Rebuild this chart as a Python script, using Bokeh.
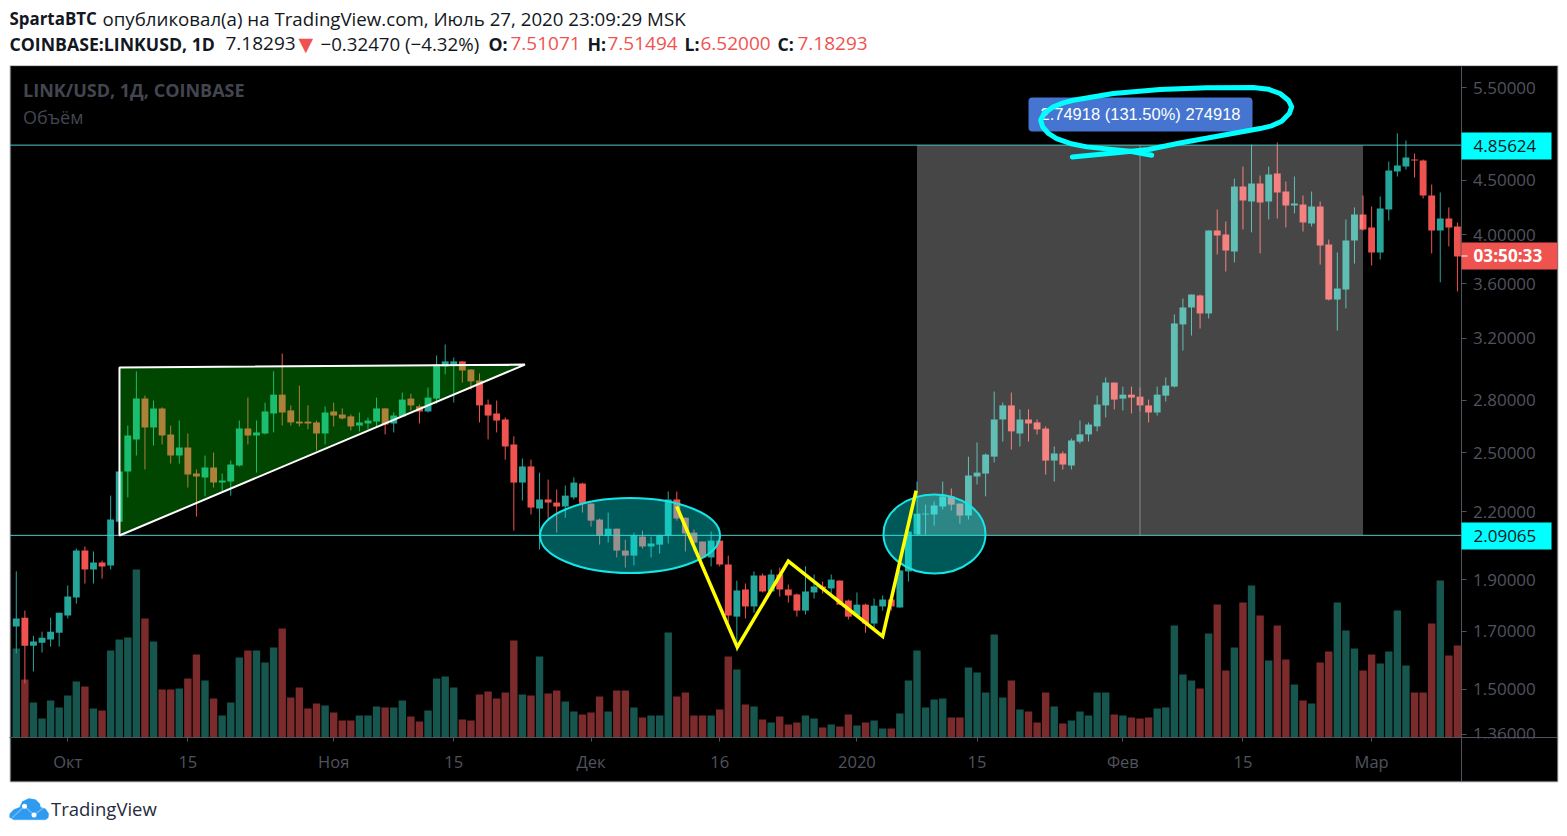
from bokeh.plotting import figure
from bokeh.embed import file_html
from bokeh.resources import INLINE
from bokeh.models import (BoxAnnotation, Label, PolyAnnotation, FixedTicker,
                          NumeralTickFormatter, Range1d, LinearScale)

opens = [1.717,1.750,1.647,1.658,1.669,1.694,1.758,1.828,2.023,1.942,1.972,1.959,2.153,2.400,2.572,2.809,2.639,2.750,2.600,2.484,
2.527,2.389,2.369,2.420,2.343,2.348,2.431,2.633,2.594,2.605,2.720,2.833,2.738,2.673,2.673,2.668,2.605,2.732,2.714,2.703,
2.650,2.662,2.673,2.750,2.662,2.703,2.809,2.762,2.732,2.809,3.011,3.024,3.044,2.991,2.921,2.773,2.720,2.685,2.544,2.343,
2.426,2.215,2.259,2.244,2.225,2.269,2.338,2.239,2.163,2.090,2.121,2.023,2.001,2.085,2.041,2.049,2.090,2.259,2.172,2.103,
2.063,1.993,2.067,1.963,1.754,1.860,1.793,1.917,1.852,1.921,1.860,1.840,1.777,1.848,1.872,1.864,1.896,1.816,1.758,1.800,
1.728,1.793,1.820,1.789,1.934,2.094,2.187,2.187,2.225,2.274,2.239,2.182,2.374,2.389,2.478,2.685,2.768,2.605,2.685,2.668,
2.633,2.457,2.495,2.431,2.560,2.600,2.645,2.768,2.908,2.809,2.833,2.821,2.768,2.726,2.827,2.883,3.297,3.420,3.510,3.376,
4.039,4.004,3.860,4.441,4.300,4.470,4.300,4.567,4.393,4.263,4.272,4.100,4.254,3.918,3.479,3.555,3.952,4.181,4.065,3.852,
4.226,4.587,4.637,4.708,4.698,4.356,4.039,4.145,4.074]
highs = [1.934,1.777,1.683,1.698,1.750,1.769,1.876,2.032,2.041,2.019,1.980,2.278,2.400,2.650,2.979,2.827,2.797,2.756,2.650,2.679,
2.605,2.410,2.484,2.500,2.389,2.457,2.679,2.815,2.679,2.785,2.979,3.096,2.768,2.889,2.768,2.679,2.762,2.785,2.750,2.714,
2.726,2.697,2.815,2.750,2.726,2.846,2.839,2.773,2.877,3.083,3.157,3.070,3.044,2.991,2.966,2.803,2.797,2.697,2.589,2.468,
2.462,2.394,2.358,2.308,2.328,2.369,2.343,2.239,2.168,2.196,2.121,2.071,2.103,2.112,2.085,2.094,2.298,2.298,2.172,2.117,
2.063,2.108,2.067,2.001,1.896,1.884,1.934,1.925,1.942,1.950,1.880,1.844,1.955,1.921,1.892,1.921,1.896,1.820,1.848,1.804,
1.824,1.836,1.820,1.942,2.108,2.348,2.234,2.249,2.348,2.313,2.239,2.478,2.555,2.495,2.852,2.785,2.846,2.744,2.744,2.685,
2.645,2.533,2.506,2.577,2.679,2.668,2.827,2.940,2.908,2.883,2.883,2.877,2.803,2.883,2.940,3.369,3.487,3.517,3.517,4.039,
4.226,4.118,4.518,4.637,4.863,4.548,4.637,4.884,4.489,4.538,4.356,4.393,4.300,3.960,3.852,4.136,4.245,4.356,4.254,4.347,
4.687,4.982,4.905,4.769,4.708,4.460,4.384,4.245,4.109]
lows = [1.620,1.518,1.558,1.623,1.644,1.644,1.747,1.804,1.884,1.884,1.904,1.942,2.153,2.269,2.484,2.410,2.538,2.544,2.441,2.441,
2.318,2.177,2.274,2.318,2.293,2.278,2.426,2.544,2.394,2.600,2.611,2.650,2.650,2.645,2.628,2.511,2.544,2.645,2.685,2.622,
2.617,2.628,2.645,2.600,2.611,2.703,2.738,2.662,2.726,2.779,2.960,2.785,2.908,2.864,2.668,2.572,2.611,2.462,2.112,2.254,
2.187,2.027,2.158,2.103,2.172,2.259,2.196,2.130,2.049,2.058,1.993,1.950,1.959,2.032,1.993,2.010,2.054,2.158,2.019,2.023,
1.989,1.955,1.955,1.732,1.627,1.747,1.769,1.848,1.852,1.832,1.808,1.754,1.762,1.824,1.844,1.844,1.800,1.743,1.758,1.694,
1.709,1.777,1.777,1.789,1.892,2.090,2.094,2.135,2.211,2.206,2.144,2.163,2.333,2.274,2.447,2.560,2.516,2.533,2.560,2.600,
2.384,2.348,2.410,2.410,2.549,2.560,2.617,2.697,2.744,2.738,2.720,2.732,2.668,2.708,2.791,2.877,3.116,3.219,3.268,3.339,
3.835,3.696,3.769,4.048,4.022,3.843,4.136,4.145,4.065,4.190,4.030,4.074,3.752,3.472,3.254,3.413,3.760,4.039,3.744,3.793,
4.127,4.538,4.607,4.528,4.328,3.843,3.611,3.902,3.540]
closes = [1.747,1.647,1.662,1.676,1.698,1.769,1.832,2.023,1.942,1.972,1.955,2.163,2.400,2.594,2.809,2.639,2.750,2.594,2.484,2.527,
2.384,2.374,2.420,2.343,2.353,2.436,2.633,2.594,2.611,2.732,2.833,2.726,2.668,2.662,2.662,2.605,2.726,2.708,2.691,2.645,
2.668,2.679,2.750,2.656,2.708,2.803,2.768,2.732,2.815,3.024,3.044,3.044,2.985,2.915,2.768,2.708,2.679,2.533,2.343,2.426,
2.220,2.259,2.244,2.225,2.278,2.343,2.239,2.158,2.090,2.121,2.023,2.001,2.090,2.041,2.054,2.090,2.259,2.168,2.099,2.058,
1.993,2.067,1.963,1.758,1.856,1.793,1.917,1.852,1.921,1.860,1.836,1.777,1.852,1.872,1.864,1.900,1.800,1.754,1.800,1.728,
1.796,1.820,1.793,1.938,2.108,2.191,2.191,2.230,2.274,2.234,2.182,2.379,2.394,2.489,2.685,2.768,2.617,2.685,2.662,2.628,
2.457,2.495,2.436,2.566,2.600,2.656,2.773,2.908,2.803,2.833,2.815,2.768,2.726,2.833,2.889,3.304,3.420,3.517,3.376,4.039,
3.995,3.868,4.441,4.309,4.470,4.291,4.557,4.384,4.263,4.282,4.109,4.254,3.910,3.479,3.563,3.952,4.181,4.048,3.852,4.236,
4.597,4.647,4.729,4.698,4.356,4.039,4.145,4.065,3.818]
volumes = [89,58,35,19,37,30,42,56,51,29,27,87,98,100,168,119,96,48,48,49,
59,83,57,39,22,35,80,87,87,75,90,109,40,50,29,34,32,25,17,17,
22,22,31,30,30,37,21,16,27,59,61,50,18,17,43,46,39,45,97,43,
42,81,44,47,36,26,23,25,41,26,47,47,30,20,22,22,105,41,45,22,
22,22,28,81,68,33,31,18,15,21,13,15,22,19,10,13,11,23,12,15,
17,9,9,24,57,87,30,38,39,20,20,70,65,45,103,40,57,28,26,15,
45,31,14,17,26,22,45,45,23,22,20,19,20,29,30,112,63,57,49,104,
133,67,90,135,152,122,77,112,78,53,37,34,75,86,135,107,89,67,83,74,
86,127,72,45,45,114,157,82,92]

date_ticks = [6,20,37,51,67,82,98,112,129,143,158]
date_labels = ["Окт","15","Ноя","15","Дек","16","2020","15","Фев","15","Мар"]
price_ticks = [5.5,4.5,4.0,3.6,3.2,2.8,2.5,2.2,1.9,1.7,1.5,1.36]

level_high = 4.85624
level_low = 2.09065
range_start, range_end, range_mid = 105, 157, 131
triangle_x = [12.03, 12.03, 59.3]
triangle_y = [2.09, 3.004, 3.023]
zigzag_x = [76.99, 84.05, 90.0, 101.0, 104.9]
zigzag_y = [2.225, 1.642, 1.977, 1.681, 2.303]
ellipse_x = [71.55, 107.04]
ellipse_y = [2.09, 2.097]
scribble_x = [132.36,129.83,124.78,122.84,121.28,120.31,119.65,119.42,119.8,120.89,122.05,123.22,127.88,133.33,138.77,144.2,145.95,147.32,148.29,148.68,148.4,147.52,146.35,144.99,140.33,135.66,131.97,128.28,123.11]
scribble_y = [4.752,4.793,4.838,4.874,4.926,4.980,5.052,5.125,5.199,5.275,5.321,5.351,5.429,5.476,5.496,5.5,5.480,5.429,5.351,5.275,5.199,5.114,5.063,5.033,4.956,4.879,4.810,4.777,4.733]

GREEN, RED = "#26a69a", "#ef5350"
VGREEN, VRED = "#17564f", "#7b2b2c"
DIM = "#50535e"
FONT = "Open Sans"
AXIS_X = 168.42
PANE_LEFT, PANE_RIGHT = -0.734, 179.61
PANE_BOTTOM, PANE_TOP = 1.2285, 5.7549

ups = [c >= o for o, c in zip(opens, closes)]
n = len(opens)
idx = list(range(n))

p = figure(width=1559, height=828, output_backend="svg", toolbar_location=None,
           x_range=Range1d(-1.840, 179.90), y_range=Range1d(1.1099, 6.637),
           y_axis_type="log", x_axis_location="below", y_axis_location="right",
           min_border_left=0, min_border_right=0, min_border_top=0, min_border_bottom=0,
           background_fill_color="#ffffff", border_fill_color="#ffffff",
           outline_line_color=None)
p.grid.visible = False
p.extra_y_ranges = {"vol": Range1d(-91, 737)}
p.extra_y_scales = {"vol": LinearScale()}

xa = p.xaxis[0]
xa.fixed_location = 1.351
xa.bounds = (PANE_LEFT, PANE_RIGHT)
xa.ticker = FixedTicker(ticks=date_ticks, minor_ticks=[])
xa.major_label_overrides = dict(zip(date_ticks, date_labels))
xa.axis_line_color = DIM
xa.major_tick_line_color = DIM
xa.major_tick_in = 0
xa.major_tick_out = 4
xa.minor_tick_line_color = None
xa.major_label_standoff = 9
xa.major_label_text_color = DIM
xa.major_label_text_font = FONT
xa.major_label_text_font_size = "16.5px"

ya = p.yaxis[0]
ya.fixed_location = AXIS_X
ya.bounds = (PANE_BOTTOM, PANE_TOP)
ya.ticker = FixedTicker(ticks=price_ticks, minor_ticks=[])
ya.formatter = NumeralTickFormatter(format="0.00000")
ya.axis_line_color = DIM
ya.major_tick_line_color = DIM
ya.major_tick_in = 0
ya.major_tick_out = 5
ya.minor_tick_line_color = None
ya.major_label_standoff = 7
ya.major_label_text_color = DIM
ya.major_label_text_font = FONT
ya.major_label_text_font_size = "17px"


def box(x0, y0, x1, y1, color, level="annotation", radius=0, line=None, lw=1):
    p.add_layout(BoxAnnotation(left=x0, right=x1, top=y0, bottom=y1,
                               left_units="canvas", right_units="canvas",
                               top_units="canvas", bottom_units="canvas",
                               fill_color=color, fill_alpha=1, line_color=line, line_width=lw,
                               border_radius=radius, level=level, editable=False))


def label(x, y, text, color, size, bold=False, font=FONT, align="left", level="annotation"):
    p.add_layout(Label(x=x, y=y, x_units="canvas", y_units="canvas", text=text,
                       text_color=color, text_font=font, text_font_size=f"{size}px",
                       text_font_style="bold" if bold else "normal", text_align=align,
                       text_baseline="middle", level=level))


# chart pane
box(10, 65.5, 1557, 781, "#000000", level="underlay", line="#434651", lw=2)

# volume
p.vbar(x=idx, bottom=0, top=volumes, width=0.86, y_range_name="vol",
       color=[VGREEN if u else VRED for u in ups], line_color=None)

# candles
colors = [GREEN if u else RED for u in ups]
p.segment(x0=idx, x1=idx, y0=lows, y1=highs, color=colors, line_width=1)
p.vbar(x=idx, bottom=[min(o, c) for o, c in zip(opens, closes)],
       top=[max(o, c) for o, c in zip(opens, closes)], width=0.8,
       fill_color=colors, line_color=None)

# drawings
p.quad(left=[range_start], right=[range_end], bottom=[level_low], top=[level_high],
       fill_color="#ffffff", fill_alpha=0.275, line_color=None)
p.segment(x0=[range_mid], x1=[range_mid], y0=[level_low], y1=[level_high],
          color="#8a8a8a", line_width=1)
p.segment(x0=[PANE_LEFT, PANE_LEFT], x1=[AXIS_X, AXIS_X], y0=[level_high, level_low],
          y1=[level_high, level_low], color="#4fcaca", line_width=1)
p.patch(triangle_x, triangle_y, fill_color="#00ff00", fill_alpha=0.27,
        line_color="#ffffff", line_width=2)
p.ellipse(x=ellipse_x, y=ellipse_y, width=[180, 102], height=[75, 79],
          width_units="screen", height_units="screen",
          fill_color="#00ffff", fill_alpha=0.35, line_color="#16e5e5", line_width=2)
p.line(zigzag_x, zigzag_y, line_color="#ffff00", line_width=3.5, line_join="miter")

# hide the cut part of the lowest price label
box(1461.5, 738, 1556, 779.5, "#000000", level="overlay")

# measurement label
box(1028, 97, 1252, 131, "#4575d1", radius=4)
label(1140, 113.5, "2.74918 (131.50%) 274918", "#ffffff", 16.5, font="Liberation Sans", align="center")

# price labels
box(1461, 132, 1551, 159, "#00ffff")
label(1473, 145.5, "4.85624", "#131722", 17)
box(1461, 522, 1551, 549, "#00ffff")
label(1473, 535, "2.09065", "#131722", 17)
box(1461, 242, 1557, 269, RED)
box(1461, 255, 1467, 256, "#ffffff")
label(1473, 255, "03:50:33", "#ffffff", 17.2, bold=True)

# pane titles
label(22.5, 89.5, "LINK/USD, 1Д, COINBASE", "#434651", 18, bold=True)
label(22.5, 116, "Объём", "#434651", 18)

# header
label(9, 17.5, "SpartaBTC", "#131722", 16.9, bold=True)
label(102, 17.5, "опубликовал(а) на TradingView.com, Июль 27, 2020 23:09:29 MSK", "#131722", 18.7)
label(9, 43, "COINBASE:LINKUSD, 1D", "#131722", 17.7, bold=True)
label(225, 43, "7.18293", "#131722", 19)
label(298, 43, "▼", RED, 19, font="DejaVu Sans")
label(320, 43, "−0.32470 (−4.32%)", "#131722", 18.7)
for lx, lt, vx, vt in [(488, "O:", 510, "7.51071"), (587, "H:", 607, "7.51494"),
                       (684, "L:", 700, "6.52000"), (777, "C:", 797, "7.18293")]:
    label(lx, 43, lt, "#131722", 17.7, bold=True)
    label(vx, 43, vt, RED, 19)

# footer
cloud_x = [9,9.3,13.3,19.3,21.7,28.3,35,39.3,40,45,48.3,47.7,45,13.3]
cloud_y = [816.7,813.3,809,806.7,801,798,799,803.3,806.7,808.3,813.3,817.3,819.3,819.3]
p.add_layout(PolyAnnotation(xs=cloud_x, ys=cloud_y,
                            xs_units="canvas", ys_units="canvas", fill_color="#2e9bf0",
                            fill_alpha=1, line_color="#2e9bf0", line_width=1, editable=False))
m_x = [11.7,24,33.3,45,33.3,24]
m_y = [817.3,805.7,814.3,806,814.3,805.7]
p.add_layout(PolyAnnotation(xs=m_x, ys=m_y,
                            xs_units="canvas", ys_units="canvas", fill_alpha=0,
                            line_color="#ffffff", line_width=1.5, editable=False))
box(21.5, 803.2, 26.5, 808.2, "#ffffff", radius=3)
box(31, 812, 36, 817, "#ffffff", radius=3)
label(50.5, 807.5, "TradingView", "#262b3e", 18.5)

# hand-drawn ring above everything
p.line(scribble_x, scribble_y, line_color="#00ffff", line_width=5, line_join="round",
       line_cap="round", level="overlay")

open("out.html", "w").write(file_html(p, INLINE))
